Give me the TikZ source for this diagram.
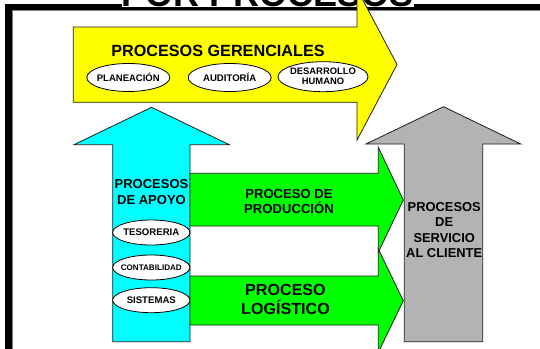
\documentclass[tikz,border=0pt]{standalone}
\usepackage{fontspec}
\setmainfont{Liberation Sans}
\definecolor{ylw}{RGB}{255,255,0}
\definecolor{cyn}{RGB}{0,255,255}
\definecolor{grn}{RGB}{0,255,0}
\definecolor{gry}{RGB}{179,179,179}
\definecolor{edge}{RGB}{30,30,30}
\usetikzlibrary{shapes.geometric}
\tikzset{
  arrowshape/.style={draw=edge, line width=0.8pt, line join=miter},
  oval/.style={ellipse, draw=black, line width=0.8pt, fill=white, inner sep=0pt},
  lbl/.style={inner sep=0pt, align=center, font=\bfseries},
}
\begin{document}
\begin{tikzpicture}[x=1pt,y=-1pt]
\useasboundingbox (0,0) rectangle (540,348);
% frame
\draw[line width=6.4pt, line join=miter, black] (8.4,400) -- (8.4,7) -- (600,7);
\draw[line width=1pt, gray] (12.2,400) -- (12.2,10.6) -- (600,10.6);
% title (cut off at top)
\node[fill=white, inner sep=0pt, anchor=base, font=\fontsize{36}{40}\selectfont\bfseries] (title) at (268,6.7) {POR PROCESOS};
% yellow arrow
\draw[arrowshape, fill=ylw] (73.3,27) -- (357,27) -- (357,-11) -- (397,64.5) -- (357,140) -- (357,102.3) -- (73.3,102.3) -- cycle;
\node[lbl, anchor=base, font=\fontsize{16.2}{19}\selectfont\bfseries] (gerenciales) at (218,56) {PROCESOS GERENCIALES};
\node[oval, minimum width=83pt, minimum height=28pt] (planeacion) at (128.3,77.5) {};
\node[lbl, font=\fontsize{9.5}{10.7}\selectfont\bfseries] at (planeacion.center) {PLANEACIÓN};
\node[oval, minimum width=83pt, minimum height=28pt] (auditoria) at (229.7,77.5) {};
\node[lbl, font=\fontsize{9.6}{10.7}\selectfont\bfseries] at (auditoria.center) {AUDITORÍA};
\node[oval, minimum width=90pt, minimum height=30pt] (desarrollo) at (323,76.7) {};
\node[lbl, font=\fontsize{9.4}{10.7}\selectfont\bfseries] (desarrollotxt) at (323,76.4) {DESARROLLO\\HUMANO};
% cyan arrow
\draw[arrowshape, fill=cyn] (112.7,341.7) -- (112.7,144.7) -- (74,144.7) -- (151.5,107.3) -- (229.3,144.7) -- (190,144.7) -- (190,341.7) -- cycle;
\node[lbl, font=\fontsize{13}{15.7}\selectfont\bfseries] (apoyo) at (151.5,191.7) {PROCESOS\\DE APOYO};
\node[oval, minimum width=77.3pt, minimum height=25pt] (tesoreria) at (151.3,232.5) {};
\node[lbl, font=\fontsize{9.6}{11}\selectfont\bfseries] at (tesoreria.center) {TESORERIA};
\node[oval, minimum width=77.3pt, minimum height=25pt] (contabilidad) at (151.3,267.5) {};
\node[lbl, font=\fontsize{8.1}{10}\selectfont\bfseries] at (contabilidad.center) {CONTABILIDAD};
\node[oval, minimum width=77.3pt, minimum height=25pt] (sistemas) at (151.3,300.2) {};
\node[lbl, font=\fontsize{9.6}{11}\selectfont\bfseries] at (sistemas.center) {SISTEMAS};
% green arrows
\draw[arrowshape, fill=grn] (190,173.3) -- (378.3,173.3) -- (378.3,147.3) -- (403.3,200) -- (378.3,252.3) -- (378.3,226) -- (190,226) -- cycle;
\draw[arrowshape, fill=grn] (190,276) -- (378.3,276) -- (378.3,249) -- (403.3,300.7) -- (378.3,352.4) -- (378.3,325) -- (190,325) -- cycle;
\node[lbl, font=\fontsize{13.1}{15}\selectfont\bfseries] (produccion) at (289,201.2) {PROCESO DE\\PRODUCCIÓN};
\node[lbl, font=\fontsize{16.1}{19}\selectfont\bfseries] (logistico) at (285.5,299) {PROCESO\\LOGÍSTICO};
% gray arrow
\draw[arrowshape, fill=gry] (404.3,341.7) -- (404.3,144) -- (366,144) -- (443.5,106.7) -- (520.7,144) -- (482.7,144) -- (482.7,341.7) -- cycle;
\node[lbl, font=\fontsize{12.9}{15.53}\selectfont\bfseries] (servicio) at (444.2,230) {PROCESOS\\DE\\SERVICIO\\AL CLIENTE};
\end{tikzpicture}
\end{document}
